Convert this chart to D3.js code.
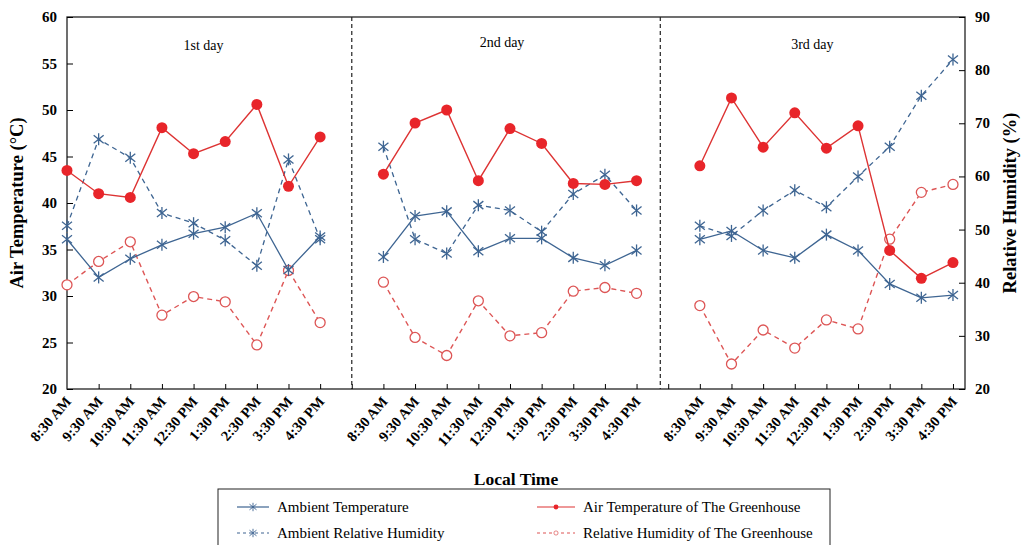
<!DOCTYPE html>
<html>
<head>
<meta charset="utf-8">
<script src="https://cdn.jsdelivr.net/npm/d3@7"></script>
<style>
  body { margin: 0; background: #fff; }
  svg { font-family: "Liberation Serif", "Times New Roman", serif; }
</style>
</head>
<body>
<svg width="1023" height="545"></svg>
<script>
// times of day, repeated for each of the three days
const hours = ["8:30 AM", "9:30 AM", "10:30 AM", "11:30 AM", "12:30 PM",
               "1:30 PM", "2:30 PM", "3:30 PM", "4:30 PM"];
const days = ["1st day", "2nd day", "3rd day"];

// °C, left axis
const ambientTemp = [
  [36.1, 32.0, 34.0, 35.5, 36.7, 37.4, 38.9, 32.8, 36.4],
  [34.2, 38.6, 39.1, 34.8, 36.2, 36.2, 34.1, 33.3, 34.9],
  [36.1, 37.0, 34.9, 34.1, 36.6, 34.9, 31.3, 29.8, 30.1]
];
const greenhouseTemp = [
  [43.5, 41.0, 40.6, 48.1, 45.3, 46.6, 50.6, 41.8, 47.1],
  [43.1, 48.6, 50.0, 42.4, 48.0, 46.4, 42.1, 42.0, 42.4],
  [44.0, 51.3, 46.0, 49.7, 45.9, 48.3, 34.9, 31.9, 33.6]
];
// %, right axis
const ambientRH = [
  [50.7, 67.0, 63.5, 53.1, 51.2, 48.0, 43.2, 63.2, 48.2],
  [65.6, 48.2, 45.5, 54.6, 53.6, 49.6, 56.7, 60.3, 53.6],
  [50.7, 48.8, 53.6, 57.4, 54.2, 60.0, 65.6, 75.2, 82.0]
];
const greenhouseRH = [
  [39.6, 44.0, 47.7, 33.9, 37.4, 36.4, 28.3, 42.3, 32.5],
  [40.1, 29.7, 26.3, 36.6, 30.0, 30.6, 38.4, 39.1, 38.0],
  [35.7, 24.7, 31.1, 27.7, 33.0, 31.3, 48.2, 57.0, 58.5]
];

const leftTicks = [20, 25, 30, 35, 40, 45, 50, 55, 60];
const rightTicks = [20, 30, 40, 50, 60, 70, 80, 90];
// slot positions of the dashed day separators
const dividers = [9, 18.75];

const blue = "#3e6592", red = "#e8252a", lightRed = "#dd5555";

const svg = d3.select("svg");
const plotL = 67, plotR = 965, plotT = 17, plotB = 389;

// every day takes 9 slots plus one empty slot
const slot = (d, h) => d * 10 + h;
const x = d3.scaleLinear().domain([0, 28.38]).range([plotL, plotR]);
const yT = d3.scaleLinear().domain([20, 60]).range([plotB, plotT]);
const yH = d3.scaleLinear().domain([20, 90]).range([plotB, plotT]);

// frame
svg.append("rect")
    .attr("x", plotL).attr("y", plotT)
    .attr("width", plotR - plotL).attr("height", plotB - plotT)
    .attr("fill", "none").attr("stroke", "#222").attr("stroke-width", 1.3);

// left axis, ticks pointing inward
svg.append("g")
    .attr("transform", `translate(${plotL},0)`)
    .call(d3.axisRight(yT).tickValues(leftTicks).tickSize(6).tickFormat(""))
    .call(g => g.select(".domain").remove());
svg.append("g").selectAll("text").data(leftTicks).join("text")
    .attr("x", plotL - 10).attr("y", d => yT(d) + 5)
    .attr("text-anchor", "end")
    .attr("font-weight", "bold").attr("font-size", 15)
    .text(d => d);

// right axis, ticks pointing inward
svg.append("g")
    .attr("transform", `translate(${plotR},0)`)
    .call(d3.axisLeft(yH).tickValues(rightTicks).tickSize(6).tickFormat(""))
    .call(g => g.select(".domain").remove());
svg.append("g").selectAll("text").data(rightTicks).join("text")
    .attr("x", plotR + 10).attr("y", d => yH(d) + 5)
    .attr("font-weight", "bold").attr("font-size", 15)
    .text(d => d);

// bottom ticks pointing up
svg.append("g")
    .attr("transform", `translate(0,${plotB})`)
    .call(d3.axisTop(x).tickValues(d3.range(1, 29)).tickSize(5).tickFormat(""))
    .call(g => g.select(".domain").remove());

// rotated time labels
const labels = [];
days.forEach((_, d) => hours.forEach((h, i) => labels.push({ s: slot(d, i), t: h })));
svg.append("g").selectAll("text").data(labels).join("text")
    .attr("transform", d => `translate(${x(d.s) + 5},${plotB + 13}) rotate(-49)`)
    .attr("text-anchor", "end")
    .attr("font-weight", "bold").attr("font-size", 14.5)
    .text(d => d.t);

// day separators
svg.append("g").selectAll("line").data(dividers).join("line")
    .attr("x1", d => x(d)).attr("x2", d => x(d))
    .attr("y1", plotT).attr("y2", plotB)
    .attr("stroke", "#222").attr("stroke-width", 1.2)
    .attr("stroke-dasharray", "4,3");

// day titles
svg.append("g").selectAll("text").data(days).join("text")
    .attr("x", (d, i) => x(slot(i, 4)) + [10, -8, -14][i])
    .attr("y", (d, i) => [50, 47, 49][i])
    .attr("text-anchor", "middle").attr("font-size", 14)
    .text(d => d);

// axis titles
svg.append("text")
    .attr("transform", `translate(23,${(plotT + plotB) / 2}) rotate(-90)`)
    .attr("text-anchor", "middle").attr("font-weight", "bold").attr("font-size", 18.5)
    .text("Air Temperature  (°C)");
svg.append("text")
    .attr("transform", `translate(1016,${(plotT + plotB) / 2}) rotate(-90)`)
    .attr("text-anchor", "middle").attr("font-weight", "bold").attr("font-size", 18.5)
    .text("Relative Humidity  (%)");
svg.append("text")
    .attr("x", 516).attr("y", 485)
    .attr("text-anchor", "middle").attr("font-weight", "bold").attr("font-size", 17.5)
    .text("Local Time");

// markers
const star = (g, c) => {
    [[0, -6, 0, 6], [-5, -4, 5, 4], [-5, 4, 5, -4]].forEach(l =>
        g.append("line").attr("x1", l[0]).attr("y1", l[1]).attr("x2", l[2]).attr("y2", l[3])
            .attr("stroke", c).attr("stroke-width", 1.3));
};
const dot = (g) => g.append("circle").attr("r", 5.5).attr("fill", red);
const ring = (g) => g.append("circle").attr("r", 5).attr("fill", "#fff")
    .attr("stroke", lightRed).attr("stroke-width", 1.3);

const series = [
    { name: "Ambient Relative Humidity", data: ambientRH, y: yH, color: blue, dash: "5,4", w: 1.3, mark: g => star(g, blue) },
    { name: "Relative Humidity of The Greenhouse", data: greenhouseRH, y: yH, color: lightRed, dash: "5,4", w: 1.4, mark: ring },
    { name: "Ambient Temperature", data: ambientTemp, y: yT, color: blue, dash: null, w: 1.3, mark: g => star(g, blue) },
    { name: "Air Temperature of The Greenhouse", data: greenhouseTemp, y: yT, color: "#dd3333", dash: null, w: 1.4, mark: dot }
];

series.forEach(s => {
    s.data.forEach((vals, d) => {
        const line = d3.line().x((v, i) => x(slot(d, i))).y(v => s.y(v));
        svg.append("path").datum(vals)
            .attr("d", line).attr("fill", "none")
            .attr("stroke", s.color).attr("stroke-width", s.w)
            .attr("stroke-dasharray", s.dash);
        vals.forEach((v, i) => {
            const g = svg.append("g").attr("transform", `translate(${x(slot(d, i))},${s.y(v)})`);
            s.mark(g);
        });
    });
});

// legend
const lg = svg.append("g");
lg.append("rect").attr("x", 218).attr("y", 489).attr("width", 612).attr("height", 70)
    .attr("fill", "#fff").attr("stroke", "#222").attr("stroke-width", 1);
const legendItems = [
    { s: series[2], x: 237, y: 507, len: 32, marker: g => star(g, blue) },
    { s: series[3], x: 537, y: 507, len: 38, marker: g => g.append("circle").attr("r", 3.5).attr("fill", red) },
    { s: series[0], x: 237, y: 533, len: 32, marker: g => star(g, blue) },
    { s: series[1], x: 537, y: 533, len: 38, marker: g => g.append("circle").attr("r", 3).attr("fill", "#fff").attr("stroke", lightRed) }
];
legendItems.forEach(it => {
    lg.append("line").attr("x1", it.x).attr("x2", it.x + it.len)
        .attr("y1", it.y).attr("y2", it.y)
        .attr("stroke", it.s.color).attr("stroke-width", 1.2)
        .attr("stroke-dasharray", it.s.dash ? "3,3" : null);
    const g = lg.append("g")
        .attr("transform", `translate(${it.x + it.len / 2},${it.y}) scale(0.7)`);
    it.marker(g);
    lg.append("text").attr("x", it.x + it.len + 8).attr("y", it.y + 5)
        .attr("font-size", 15).text(it.s.name);
});
</script>
</body>
</html>
